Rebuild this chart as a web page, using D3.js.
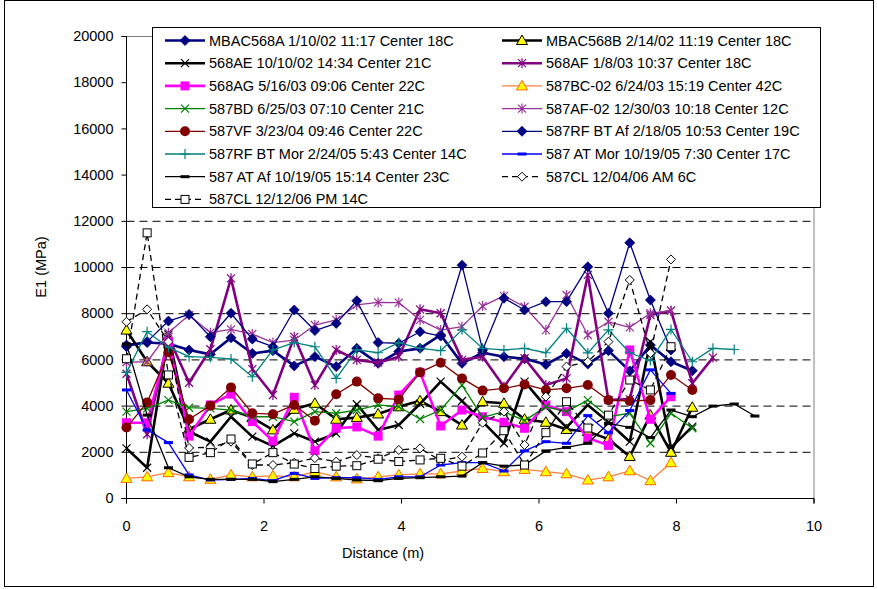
<!DOCTYPE html>
<html><head><meta charset="utf-8">
<script src="https://cdn.jsdelivr.net/npm/d3@7"></script>
<style>html,body{margin:0;padding:0;background:#fff}svg{display:block}</style>
</head><body>
<svg id="c" width="877" height="589"></svg>
<script>
// ---- data ----
const distances = [0, 0.30, 0.61, 0.91, 1.22, 1.52, 1.83, 2.13, 2.44, 2.74, 3.05, 3.35, 3.66, 3.96, 4.27, 4.57, 4.88, 5.18, 5.49, 5.79, 6.10, 6.40, 6.71, 7.01, 7.32, 7.62, 7.92, 8.23, 8.53, 8.84, 9.14];
const seriesNames = [
  "MBAC568A 1/10/02 11:17 Center 18C",
  "MBAC568B 2/14/02 11:19 Center 18C",
  "568AE 10/10/02 14:34 Center 21C",
  "568AF 1/8/03 10:37 Center 18C",
  "568AG 5/16/03 09:06 Center 22C",
  "587BC-02 6/24/03 15:19 Center 42C",
  "587BD 6/25/03 07:10 Center 21C",
  "587AF-02 12/30/03 10:18 Center 12C",
  "587VF 3/23/04 09:46 Center 22C",
  "587RF BT Af 2/18/05 10:53 Center 19C",
  "587RF BT Mor 2/24/05 5:43 Center 14C",
  "587 AT Mor 10/19/05 7:30 Center 17C",
  "587 AT Af 10/19/05 15:14 Center 23C",
  "587CL 12/04/06 AM 6C",
  "587CL 12/12/06 PM 14C"
];
const mbac568a = [6640, 6750, 6700, 6430, 6240, 6960, 6280, 6400, 5740, 6140, 5710, 6500, 5850, 6360, 6500, 7080, 5850, 6310, 6140, 6050, 5800, 6280, 5820, 6400, 5520, 6640, 5920, 5530];
const mbac568b = [7290, 5920, 4990, 3000, 3430, 3830, 3500, 2970, 3860, 4120, 3430, 3500, 3660, 3970, 4230, 3760, 3180, 4190, 4120, 3430, 3300, 2990, 2900, 2570, 1820, 3610, 2000, 3950];
const s568ae  = [2170, 1330, 7100, 2900, 2460, 3540, 2680, 2270, 2820, 2460, 2820, 4080, 2970, 3180, 4100, 5060, 4220, 3330, 2390, 5060, 3970, 3080, 4050, 3300, 2460, 6790, 2200, 3110];
const s568af  = [5400, 2780, 7000, 5010, 6460, 9530, 5600, 4480, 7000, 4910, 6430, 6000, 5880, 6140, 8190, 8020, 6000, 6140, 4840, 6070, 4910, 5200, 9680, 4260, 4300, 7940, 8130, 4990, 6100];
const s568ag  = [3280, 3280, 6790, 2700, 4050, 4520, 3330, 2490, 4380, 2070, 3040, 3100, 2700, 4480, 5460, 3140, 3830, 3540, 3300, 3040, 4050, 3760, 2620, 2300, 6430, 3430, 4410];
const s587bc  = [870, 940, 1120, 940, 830, 1020, 940, 980, 940, 1160, 940, 850, 940, 1020, 1070, 1070, 1190, 1300, 1160, 1260, 1160, 1070, 800, 940, 1200, 770, 1550];
const s587bd  = [3760, 3900, 4260, 3930, 3900, 3830, 3540, 3540, 3330, 3760, 3690, 3830, 4050, 3970, 3440, 3830, 4910, 3510, 3760, 3370, 3970, 3760, 4260, 3540, 3690, 2390, 3690, 3040];
const s587af  = [5900, 5920, 7180, 7940, 7180, 7320, 7120, 6750, 6860, 7510, 7730, 8380, 8490, 8480, 7730, 7290, 7440, 8330, 8770, 8300, 7290, 8810, 7080, 7650, 7410, 8020, 8130];
const s587vf  = [3070, 4160, 6330, 3430, 4020, 4810, 3690, 3650, 4050, 3370, 4510, 5060, 4340, 4290, 5460, 5880, 5200, 4670, 4770, 4940, 4700, 4770, 4910, 4260, 4220, 4260, 5350, 4700];
const s587rfAf  = [6570, 6790, 7680, 7970, 7000, 8020, 6900, 6570, 8160, 7270, 7580, 8560, 6750, 6720, 7220, 7030, 10100, 6430, 8670, 8160, 8520, 8520, 10030, 8020, 11070, 8590, 6430];
const s587rfMor = [5460, 7220, 6540, 6140, 6110, 6040, 5270, 6430, 6750, 6570, 5200, 6430, 6310, 6750, 6500, 6400, 7300, 6500, 6430, 6500, 6310, 7370, 6300, 7300, 6310, 5970, 7320, 5920, 6500, 6450];
const s587atMor = [4700, 2970, 2420, 1020, 800, 830, 870, 770, 1090, 870, 900, 900, 830, 940, 940, 1450, 1550, 1550, 1190, 2060, 2460, 2390, 3590, 2850, 3810, 5570, 4550];
const s587atAf  = [6690, 3610, 1330, 940, 830, 830, 830, 730, 830, 940, 870, 800, 770, 870, 900, 940, 970, 1550, 1400, 1450, 2060, 2210, 2390, 3250, 3080, 2640, 3830, 3540, 4000, 4090, 3570];
const s587clAM  = [7650, 8190, 6790, 2190, 2215, 2460, 1450, 1450, 1550, 1750, 1600, 1880, 1740, 2100, 2170, 1640, 1810, 3280, 3760, 2320, 4410, 5710, 5920, 6790, 9460, 6290, 10350];
const s587clPM  = [6050, 11500, 5350, 1780, 1985, 2575, 1495, 1985, 1490, 1300, 1400, 1420, 1700, 1600, 1670, 1740, 1400, 1970, 2935, 1450, 2850, 4190, 3050, 3610, 5130, 4700, 6570];
const yTicks = [0, 2000, 4000, 6000, 8000, 10000, 12000, 14000, 16000, 18000, 20000];
const xTicks = [0, 2, 4, 6, 8, 10];
const gridValues = [2000, 4000, 6000, 8000, 10000, 12000];

const seriesValues = [mbac568a, mbac568b, s568ae, s568af, s568ag, s587bc, s587bd, s587af, s587vf, s587rfAf, s587rfMor, s587atMor, s587atAf, s587clAM, s587clPM];

// ---- styles ----
const styles = [
  {stroke:"#000080", w:2.6, marker:"diamond", fill:"#000080", mstroke:"#000080"},
  {stroke:"#000000", w:2.6, marker:"triangle", fill:"#FFFF00", mstroke:"#000000"},
  {stroke:"#000000", w:2.6, marker:"x", fill:"none", mstroke:"#000000"},
  {stroke:"#800080", w:2.6, marker:"star", fill:"none", mstroke:"#800080"},
  {stroke:"#FF00FF", w:2.6, marker:"square", fill:"#FF00FF", mstroke:"#FF00FF"},
  {stroke:"#FF8040", w:1.3, marker:"triangle", fill:"#FFFF00", mstroke:"#FF6600"},
  {stroke:"#008000", w:1.3, marker:"x", fill:"none", mstroke:"#008000"},
  {stroke:"#993399", w:1.3, marker:"star", fill:"none", mstroke:"#993399"},
  {stroke:"#800000", w:1.3, marker:"circle", fill:"#800000", mstroke:"#800000"},
  {stroke:"#000080", w:1.3, marker:"diamond", fill:"#000080", mstroke:"#000080"},
  {stroke:"#008080", w:1.3, marker:"plus", fill:"none", mstroke:"#008080"},
  {stroke:"#0000FF", w:1.3, marker:"dash", fill:"#0000FF", mstroke:"none"},
  {stroke:"#000000", w:1.3, marker:"dash", fill:"#000000", mstroke:"none"},
  {stroke:"#000000", w:1.3, marker:"odiamond", fill:"#FFFFFF", mstroke:"#000000", dash:"6,4"},
  {stroke:"#000000", w:1.3, marker:"osquare", fill:"#FFFFFF", mstroke:"#000000", dash:"6,4"}
];

const svg = d3.select("#c");
const FONT = "'Liberation Sans', Arial, sans-serif";
const x = d3.scaleLinear().domain([0, 10]).range([126.5, 814]);
const y = d3.scaleLinear().domain([0, 20000]).range([498.5, 36.5]);

// outer frame
svg.append("rect").attr("x",4.5).attr("y",0.5).attr("width",869).attr("height",586)
  .attr("fill","#fff").attr("stroke","#000").attr("stroke-width",1);

// plot area border (gray)
svg.append("rect").attr("x",x(0)).attr("y",y(20000)).attr("width",x(10)-x(0)).attr("height",y(0)-y(20000))
  .attr("fill","none").attr("stroke","#808080").attr("stroke-width",1);

// gridlines
svg.append("g").selectAll("line").data(gridValues).join("line")
  .attr("x1",x(0)).attr("x2",x(10)).attr("y1",d=>y(d)).attr("y2",d=>y(d))
  .attr("stroke","#000").attr("stroke-width",1).attr("stroke-dasharray","8,5");

// axes
const gy = svg.append("g").attr("transform",`translate(${x(0)},0)`)
  .call(d3.axisLeft(y).tickValues(yTicks).tickSize(5).tickPadding(8).offset(0).tickFormat(d3.format("d")));
const gx = svg.append("g").attr("transform",`translate(0,${y(0)})`)
  .call(d3.axisBottom(x).tickValues(xTicks).tickSize(5).tickPadding(17).offset(0).tickFormat(d3.format("d")));
[gx, gy].forEach(g=>{
  g.selectAll("text").attr("font-family",FONT).attr("font-size","14.5px").attr("fill","#000");
  g.selectAll("path,line").attr("stroke","#000");
});

// axis titles
svg.append("text").attr("x",383).attr("y",558).attr("text-anchor","middle")
  .attr("font-family",FONT).attr("font-size","14.5px").text("Distance (m)");
svg.append("text").attr("transform","translate(46,267) rotate(-90)").attr("text-anchor","middle")
  .attr("font-family",FONT).attr("font-size","14.5px").text("E1 (MPa)");

// marker drawing
function drawMarker(g, type, cx, cy, st){
  const s = 4.5;
  let el;
  switch(type){
    case "diamond":
      el = g.append("path").attr("d",`M0,${-s-0.5}L${s+0.5},0L0,${s+0.5}L${-s-0.5},0Z`).attr("fill",st.fill).attr("stroke",st.mstroke).attr("stroke-width",0.8); break;
    case "odiamond":
      el = g.append("path").attr("d",`M0,${-s}L${s},0L0,${s}L${-s},0Z`).attr("fill",st.fill).attr("stroke",st.mstroke).attr("stroke-width",1); break;
    case "triangle":
      el = g.append("path").attr("d",`M0,-5.5L5.5,4L-5.5,4Z`).attr("fill",st.fill).attr("stroke",st.mstroke).attr("stroke-width",1); break;
    case "square":
      el = g.append("rect").attr("x",-4.5).attr("y",-4.5).attr("width",9).attr("height",9).attr("fill",st.fill); break;
    case "osquare":
      el = g.append("rect").attr("x",-4).attr("y",-4).attr("width",8).attr("height",8).attr("fill",st.fill).attr("stroke",st.mstroke).attr("stroke-width",1); break;
    case "circle":
      el = g.append("circle").attr("r",5).attr("fill",st.fill); break;
    case "x":
      el = g.append("path").attr("d",`M-4,-4L4,4M-4,4L4,-4`).attr("fill","none").attr("stroke",st.mstroke).attr("stroke-width",1.2); break;
    case "plus":
      el = g.append("path").attr("d",`M-5,0L5,0M0,-5L0,5`).attr("fill","none").attr("stroke",st.mstroke).attr("stroke-width",1.2); break;
    case "star":
      el = g.append("path").attr("d",`M-4,-4L4,4M-4,4L4,-4M0,-5L0,5`).attr("fill","none").attr("stroke",st.mstroke).attr("stroke-width",1.2); break;
    case "dash":
      el = g.append("rect").attr("x",-4.5).attr("y",-1.5).attr("width",9).attr("height",3).attr("fill",st.fill); break;
  }
  el.attr("transform",`translate(${cx},${cy})`);
}

// series
const line = d3.line().x(d=>x(d[0])).y(d=>y(d[1]));
seriesValues.forEach((vals, k)=>{
  const st = styles[k];
  const pts = vals.map((v,i)=>[distances[i], v]);
  const g = svg.append("g");
  g.append("path").attr("d",line(pts)).attr("fill","none").attr("stroke",st.stroke)
    .attr("stroke-width",st.w).attr("stroke-linejoin","round")
    .attr("stroke-dasharray",st.dash||null);
  pts.forEach(p=>drawMarker(g, st.marker, x(p[0]), y(p[1]), st));
});

// legend
const lg = svg.append("g");
lg.append("rect").attr("x",152.5).attr("y",27.5).attr("width",668).attr("height",180)
  .attr("fill","#fff").attr("stroke","#000").attr("stroke-width",1);
const colX = [165, 502];
const rowY0 = 40.5, rowDY = 22.7;
seriesNames.forEach((name,k)=>{
  const col = k%2, row = Math.floor(k/2);
  const st = styles[k];
  const ly = rowY0 + row*rowDY;
  const lx = colX[col];
  const g = lg.append("g");
  g.append("line").attr("x1",lx).attr("x2",lx+40).attr("y1",ly).attr("y2",ly)
    .attr("stroke",st.stroke).attr("stroke-width",st.w).attr("stroke-dasharray",st.dash||null);
  drawMarker(g, st.marker, lx+20, ly, st);
  g.append("text").attr("x",lx+44).attr("y",ly+5).attr("font-family",FONT).attr("font-size","14.5px")
    .attr("fill","#000").text(name);
});
</script>
</body></html>
